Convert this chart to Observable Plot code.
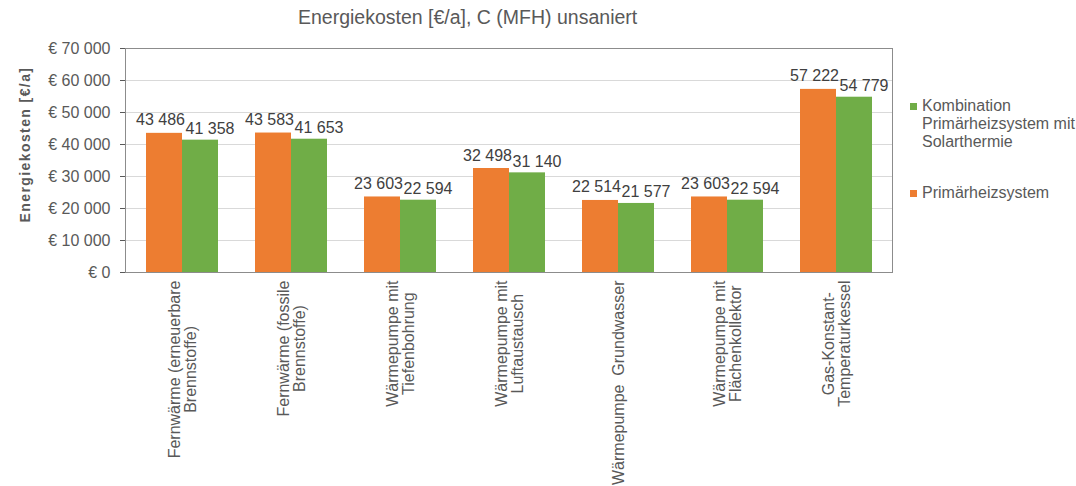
<!DOCTYPE html>
<html><head><meta charset="utf-8">
<script src="https://cdn.jsdelivr.net/npm/d3@7"></script>
<script src="https://cdn.jsdelivr.net/npm/@observablehq/plot@0.6"></script>
<style>
body{margin:0;background:#fff;font-family:"Liberation Sans",Arial,sans-serif;}
#wrap{position:relative;width:1076px;height:486px;overflow:hidden;}
#chart{position:absolute;left:0;top:0;}
#title{position:absolute;left:298px;top:8px;font-size:19.5px;line-height:1;color:#595959;white-space:nowrap;}
#legend{position:absolute;left:910px;top:97px;color:#595959;font-size:16px;line-height:18px;}
.item{display:flex;align-items:flex-start;}
.sw{width:7px;height:7px;margin-top:6px;margin-right:5px;flex:none;}
</style></head><body>
<div id="wrap">
<div id="chart"></div>
<div id="title"></div>
<div id="legend"></div>
</div>
<script>
const titleText = "Energiekosten [€/a], C (MFH) unsaniert";
const yLabel = "Energiekosten [€/a]";
const categories = [
  "Fernwärme (erneuerbare\nBrennstoffe)",
  "Fernwärme (fossile\nBrennstoffe)",
  "Wärmepumpe mit\nTiefenbohrung",
  "Wärmepumpe mit\nLuftaustausch",
  "Wärmepumpe  Grundwasser",
  "Wärmepumpe mit\nFlächenkollektor",
  "Gas-Konstant-\nTemperaturkessel"
];
const seriesNames = ["Primärheizsystem", "Kombination Primärheizsystem mit Solarthermie"];
const legendOrder = ["Kombination\nPrimärheizsystem mit\nSolarthermie", "Primärheizsystem"];
const primaer = [43486, 43583, 23603, 32498, 22514, 23603, 57222];
const kombi   = [41358, 41653, 22594, 31140, 21577, 22594, 54779];
const yTicks = [0, 10000, 20000, 30000, 40000, 50000, 60000, 70000];
const colors = ["#ED7D31", "#70AD47"];

const W = 1076, H = 486, mL = 125, mR = 184, mT = 48, mB = 214;
const padIn = 0.343, padOut = 0.17;
const step = (W - mL - mR) / (categories.length - padIn + 2 * padOut);
const half = step * (1 - padIn) / 2;

const dPrim = categories.map((c, i) => ({cat: c, series: seriesNames[0], value: primaer[i]}));
const dKombi = categories.map((c, i) => ({cat: c, series: seriesNames[1], value: kombi[i]}));
const grp = v => d3.format(",")(v).replace(/,/g, " ");
const fmtTick = v => "€ " + grp(v);

const chart = Plot.plot({
  width: W, height: H,
  marginLeft: mL, marginRight: mR, marginTop: mT, marginBottom: mB,
  style: {fontFamily: "Liberation Sans, Arial, sans-serif", fontSize: "16px", color: "#595959", background: "white"},
  x: {domain: categories, paddingInner: padIn, paddingOuter: padOut, label: null, tickRotate: -90, tickSize: 0, tickPadding: 8},
  y: {domain: [0, 70000], ticks: yTicks, tickFormat: fmtTick, label: null, tickSize: 5, tickPadding: 10},
  color: {domain: seriesNames, range: colors},
  marks: [
    Plot.gridY(yTicks, {stroke: "#d9d9d9", strokeOpacity: 1}),
    Plot.barY(dPrim, {x: "cat", y: "value", fill: "series", insetRight: half}),
    Plot.barY(dKombi, {x: "cat", y: "value", fill: "series", insetLeft: half}),
    Plot.text(dPrim, {x: "cat", y: "value", text: d => grp(d.value), lineAnchor: "bottom", dx: -half / 2 - 4, dy: -8, fill: "#404040", fontSize: 16}),
    Plot.text(dKombi, {x: "cat", y: "value", text: d => grp(d.value), lineAnchor: "bottom", textAnchor: "start", dx: 3, dy: -6, fill: "#404040", fontSize: 16}),
    Plot.frame({stroke: "#8c8c8c"}),
    Plot.text([yLabel], {frameAnchor: "left", textAnchor: "middle", dx: -100, dy: -16, rotate: -90, fontWeight: "bold", fontSize: 14, fill: "#595959"})
  ]
});
document.getElementById("chart").appendChild(chart);

chart.querySelectorAll("text").forEach(t => {
  const spans = t.querySelectorAll("tspan");
  t.setAttribute("xml:space", "preserve");
  t.style.whiteSpace = "pre";
  if (t.textContent === yLabel) t.style.letterSpacing = "1.4px";
  // center multi-line category labels like the original
  if (spans.length > 1) {
    let max = 0;
    spans.forEach(s => max = Math.max(max, s.getComputedTextLength()));
    t.setAttribute("text-anchor", "middle");
    t.style.textAnchor = "middle";
    spans.forEach(s => s.setAttribute("x", -max / 2));
  }
});

document.getElementById("title").textContent = titleText;
const lg = document.getElementById("legend");
legendOrder.forEach((name, i) => {
  const it = document.createElement("div");
  it.className = "item";
  if (i > 0) it.style.marginTop = "33px";
  const sw = document.createElement("div");
  sw.className = "sw";
  sw.style.background = i === 0 ? colors[1] : colors[0];
  const tx = document.createElement("div");
  tx.style.whiteSpace = "pre";
  tx.textContent = name;
  it.appendChild(sw); it.appendChild(tx);
  lg.appendChild(it);
});
</script>
</body></html>
